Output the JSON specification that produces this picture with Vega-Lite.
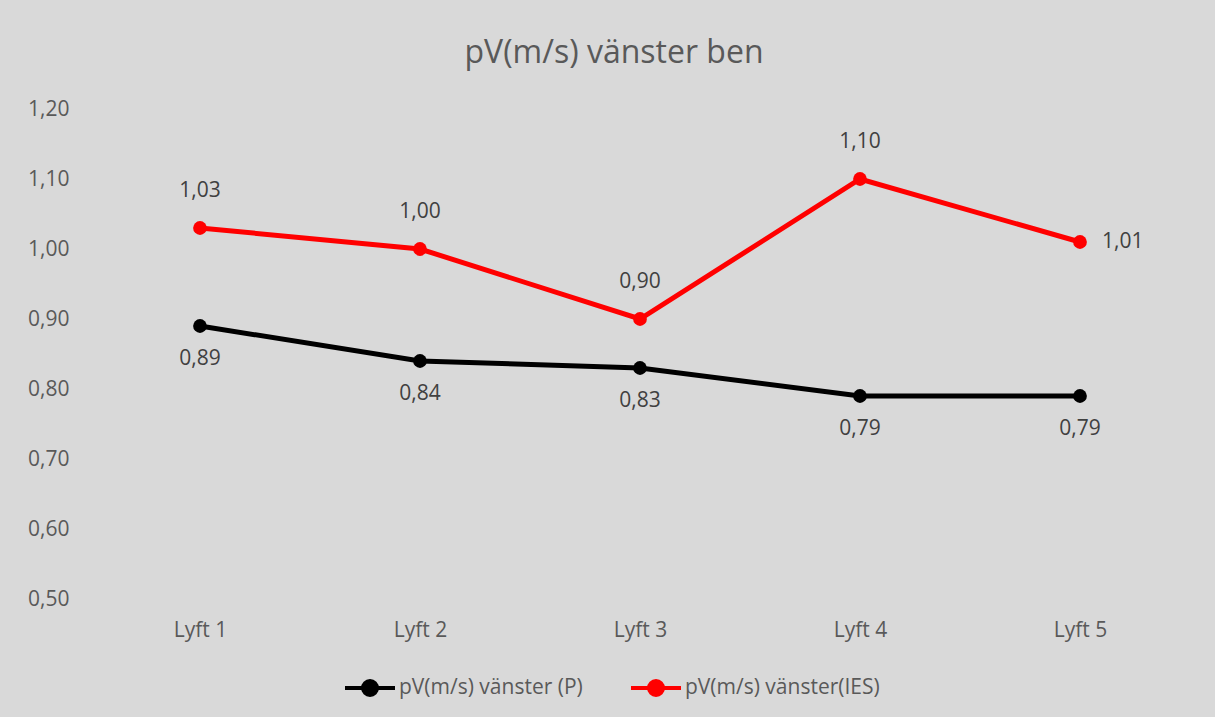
{
  "$schema": "https://vega.github.io/schema/vega-lite/v6.json",
  "width": 1100,
  "height": 490,
  "autosize": "none",
  "padding": {"left": 90, "top": 109, "right": 25, "bottom": 118},
  "background": "#d9d9d9",
  "config": {
    "view": {"stroke": null},
    "font": "Open Sans",
    "locale": {"number": {"decimal": ",", "thousands": " ", "grouping": [3], "currency": ["", " kr"]}}
  },
  "title": {
    "text": "pV(m/s) vänster ben",
    "fontSize": 32,
    "fontWeight": "normal",
    "color": "#595959",
    "anchor": "middle",
    "dx": -26,
    "offset": 28
  },
  "data": {
    "values": [
      {"lyft": "Lyft 1", "serie": "pV(m/s) vänster (P)", "value": 0.89},
      {"lyft": "Lyft 2", "serie": "pV(m/s) vänster (P)", "value": 0.84},
      {"lyft": "Lyft 3", "serie": "pV(m/s) vänster (P)", "value": 0.83},
      {"lyft": "Lyft 4", "serie": "pV(m/s) vänster (P)", "value": 0.79},
      {"lyft": "Lyft 5", "serie": "pV(m/s) vänster (P)", "value": 0.79},
      {"lyft": "Lyft 1", "serie": "pV(m/s) vänster(IES)", "value": 1.03},
      {"lyft": "Lyft 2", "serie": "pV(m/s) vänster(IES)", "value": 1.00},
      {"lyft": "Lyft 3", "serie": "pV(m/s) vänster(IES)", "value": 0.90},
      {"lyft": "Lyft 4", "serie": "pV(m/s) vänster(IES)", "value": 1.10},
      {"lyft": "Lyft 5", "serie": "pV(m/s) vänster(IES)", "value": 1.01}
    ]
  },
  "encoding": {
    "x": {
      "field": "lyft", "type": "ordinal", "title": null,
      "scale": {"type": "point", "padding": 0.5},
      "axis": {"labelAngle": 0, "domain": false, "ticks": false, "grid": false, "labelFontSize": 21, "labelColor": "#595959", "labelPadding": 20}
    },
    "y": {
      "field": "value", "type": "quantitative", "title": null,
      "scale": {"domain": [0.5, 1.2], "nice": false, "zero": false},
      "axis": {"values": [0.5, 0.6, 0.7, 0.8, 0.9, 1.0, 1.1, 1.2], "format": ".2f", "domain": false, "ticks": false, "grid": false, "labelFontSize": 21, "labelColor": "#595959", "labelPadding": 21}
    }
  },
  "layer": [
    {
      "mark": {"type": "line", "strokeWidth": 5},
      "encoding": {
        "color": {
          "field": "serie", "type": "nominal",
          "scale": {"domain": ["pV(m/s) vänster (P)", "pV(m/s) vänster(IES)"], "range": ["#000000", "#ff0000"]},
          "legend": {
            "orient": "none", "legendX": 253, "legendY": 552, "direction": "horizontal", "title": null,
            "symbolType": "M-1,0H1M0.28,0A0.28,0.28 0 1,1 -0.28,0A0.28,0.28 0 1,1 0.28,0Z",
            "symbolSize": 2500, "symbolStrokeWidth": 4,
            "labelFontSize": 21, "labelColor": "#595959", "labelOffset": 2, "labelLimit": 400, "columnPadding": 40,
            "encode": {"symbols": {"update": {"fill": {"scale": "color", "field": "value"}, "stroke": {"scale": "color", "field": "value"}, "opacity": {"value": 1}}}}
          }
        }
      }
    },
    {
      "mark": {"type": "point", "filled": true, "size": 190, "opacity": 1},
      "encoding": {"color": {"field": "serie", "type": "nominal"}}
    },
    {
      "transform": [{"filter": "datum.serie == 'pV(m/s) vänster (P)'"}],
      "mark": {"type": "text", "dy": 33, "fontSize": 21, "color": "#404040"},
      "encoding": {"text": {"field": "value", "type": "quantitative", "format": ".2f"}}
    },
    {
      "transform": [{"filter": "datum.serie == 'pV(m/s) vänster(IES)' && datum.lyft != 'Lyft 5'"}],
      "mark": {"type": "text", "dy": -37, "fontSize": 21, "color": "#404040"},
      "encoding": {"text": {"field": "value", "type": "quantitative", "format": ".2f"}}
    },
    {
      "transform": [{"filter": "datum.serie == 'pV(m/s) vänster(IES)' && datum.lyft == 'Lyft 5'"}],
      "mark": {"type": "text", "dx": 22, "align": "left", "fontSize": 21, "color": "#404040"},
      "encoding": {"text": {"field": "value", "type": "quantitative", "format": ".2f"}}
    }
  ]
}
